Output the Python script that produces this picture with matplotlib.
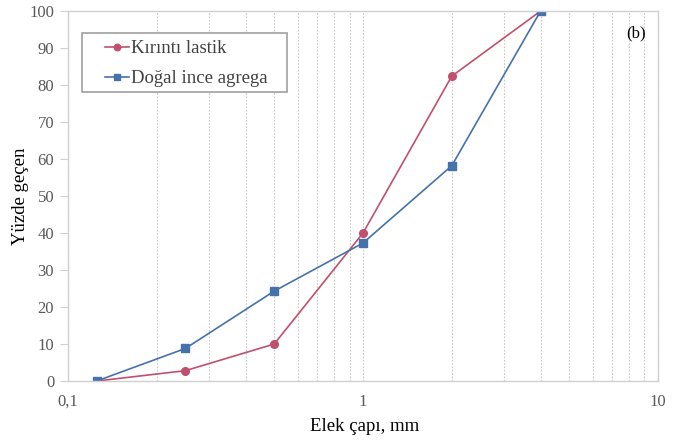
import matplotlib
matplotlib.use("Agg")
import matplotlib.pyplot as plt
from matplotlib.patches import Rectangle
from matplotlib.ticker import FixedLocator, FixedFormatter, LogLocator, NullFormatter

plt.rcParams['font.family'] = ['Liberation Serif', 'DejaVu Serif']

# Sieve sizes (mm) and cumulative percent passing
sieve_mm = [0.125, 0.25, 0.5, 1, 2, 4]
kirinti_lastik = [0, 2.8, 10, 40, 82.4, 100]
dogal_ince_agrega = [0, 8.8, 24.3, 37.3, 58.2, 100]

x_ticks = [0.1, 1, 10]
x_tick_labels = ["0,1", "1", "10"]
y_ticks = list(range(0, 101, 10))

red = "#C0506E"
blue = "#4672AA"
frame = "#D0D0D0"
tick_col = "#595959"

fig = plt.figure(figsize=(6.81, 4.41), dpi=100)
ax = fig.add_axes([0.0999, 0.136, 0.8663, 0.839])

ax.plot(sieve_mm, kirinti_lastik, color=red, lw=1.2, marker="o", ms=5.5,
        label="Kırıntı lastik")
ax.plot(sieve_mm, dogal_ince_agrega, color=blue, lw=1.2, marker="s", ms=5.5,
        label="Doğal ince agrega")

ax.set_xscale("log")
ax.set_xlim(0.1, 10)
ax.set_ylim(0, 100)

ax.xaxis.set_major_locator(FixedLocator(x_ticks))
ax.xaxis.set_major_formatter(FixedFormatter(x_tick_labels))
ax.xaxis.set_minor_locator(LogLocator(base=10, subs=range(2, 10)))
ax.xaxis.set_minor_formatter(NullFormatter())
ax.set_yticks(y_ticks)

ax.grid(True, axis="x", which="both", color="#C8C8C8", ls=(0, (1.5, 1.5)), lw=0.8)
ax.set_axisbelow(True)

for s in ax.spines.values():
    s.set_color(frame)
    s.set_linewidth(1.0)

ax.tick_params(axis="x", which="both", length=0, pad=9, labelsize=12, labelcolor=tick_col)
ax.tick_params(axis="y", which="major", length=6, width=0.8, color=frame,
               labelsize=12, labelcolor=tick_col, pad=4)

ax.set_xlabel("Elek çapı, mm", fontsize=13.5)
ax.set_ylabel("Yüzde geçen", fontsize=13.5)
ax.xaxis.set_label_coords(0.503, -0.1)
ax.yaxis.set_label_coords(-0.066, 0.5)

ax.text(0.979, 0.94, "(b)", transform=ax.transAxes, fontsize=12,
        ha="right", va="center")

# Legend box drawn separately so the side padding can be wider than the top/bottom
ax.add_patch(Rectangle((0.0237, 0.781), 0.347, 0.159, transform=ax.transAxes,
                       facecolor="white", edgecolor="#A0A0A0", lw=1.2, zorder=4))
leg = ax.legend(loc="upper left", bbox_to_anchor=(0.062, 0.921), fontsize=13.5,
                frameon=False, handlelength=1.3, handletextpad=0.1,
                borderpad=0, labelspacing=0.68, borderaxespad=0,
                markerscale=0.85)
leg.set_zorder(5)
for t in leg.get_texts():
    t.set_color("#404040")

fig.savefig("out.png", dpi=100)
